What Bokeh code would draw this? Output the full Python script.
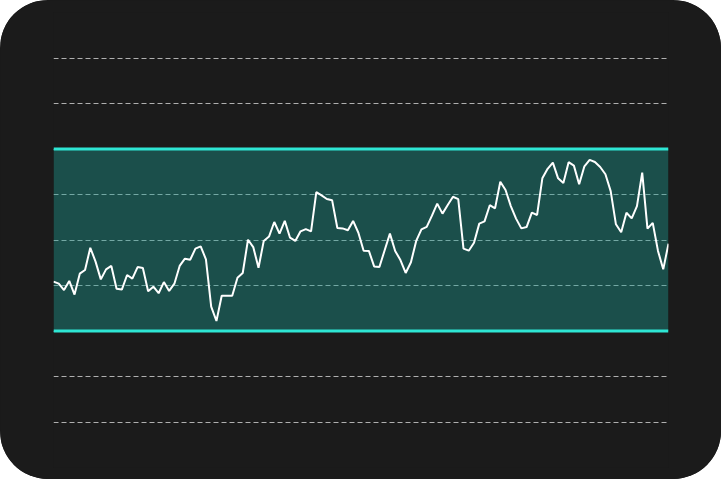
from bokeh.plotting import figure
from bokeh.models import Range1d, FixedTicker, BoxAnnotation, Span
from bokeh.embed import file_html
from bokeh.resources import INLINE

values = [-18.3, -19.2, -22.0, -18.0, -24.0, -14.8, -13.2, -3.4, -9.5, -17.3,
          -12.9, -11.4, -21.4, -21.8, -15.4, -17.0, -11.9, -12.3, -22.5, -20.5,
          -23.4, -18.5, -22.4, -19.2, -11.4, -8.2, -8.7, -3.8, -2.8, -8.5,
          -29.3, -35.6, -24.5, -24.5, -24.5, -16.6, -14.5, 0.1, -3.1, -12.2,
          -0.4, 1.5, 7.9, 2.8, 8.4, 1.0, -0.4, 3.8, 4.8, 3.8,
          21.0, 19.6, 18.0, 17.5, 5.3, 5.1, 4.3, 8.4, 3.2, -4.7,
          -4.8, -11.6, -11.9, -4.5, 2.8, -4.8, -8.8, -14.5, -9.8, -0.4,
          4.7, 5.8, 10.7, 16.0, 11.6, 15.4, 19.0, 18.0, -3.8, -4.7,
          -1.2, 7.2, 8.2, 15.3, 13.9, 25.6, 22.0, 14.9, 9.4, 5.1,
          5.7, 12.0, 11.0, 27.1, 31.3, 34.0, 27.1, 25.1, 34.2, 32.7,
          24.5, 32.4, 35.2, 34.3, 32.1, 28.9, 21.5, 6.9, 3.4, 12.0,
          9.5, 14.9, 29.6, 5.0, 7.5, -4.8, -12.9, -1.6]
x = list(range(len(values)))

band_low = -40
band_high = 40
grid_levels = [-80, -60, -40, -20, 0, 20, 40, 60, 80]
y_min, y_max = -100, 100

p = figure(width=721, height=479, output_backend="svg", toolbar_location=None, tools="",
           x_range=Range1d(0, len(values) - 1), y_range=Range1d(y_min, y_max),
           min_border_left=53, min_border_right=53, min_border_top=12, min_border_bottom=12,
           background_fill_color="#1b1b1b", border_fill_color="#1b1b1b",
           x_axis_location=None, y_axis_location=None)
p.outline_line_color = None
p.xgrid.visible = False
p.ygrid.ticker = FixedTicker(ticks=grid_levels)
p.ygrid.grid_line_color = "white"
p.ygrid.grid_line_alpha = 0.65
p.ygrid.grid_line_dash = "5 3"
p.ygrid.grid_line_width = 1

band = BoxAnnotation(bottom=band_low, top=band_high, fill_color="#1b9d93",
                     fill_alpha=0.4, line_color=None, line_alpha=0, level="underlay")
p.add_layout(band)
for lvl in (band_low, band_high):
    p.add_layout(Span(location=lvl, dimension="width", line_color="#2ee6d4",
                      line_width=3, level="underlay"))

p.line(x, values, line_color="white", line_width=2)

p.styles = {"position": "absolute", "left": "0px", "top": "0px",
            "border-radius": "48px", "overflow": "hidden",
            "background-color": "#1b1b1b"}

open("out.html", "w").write(file_html(p, INLINE))
